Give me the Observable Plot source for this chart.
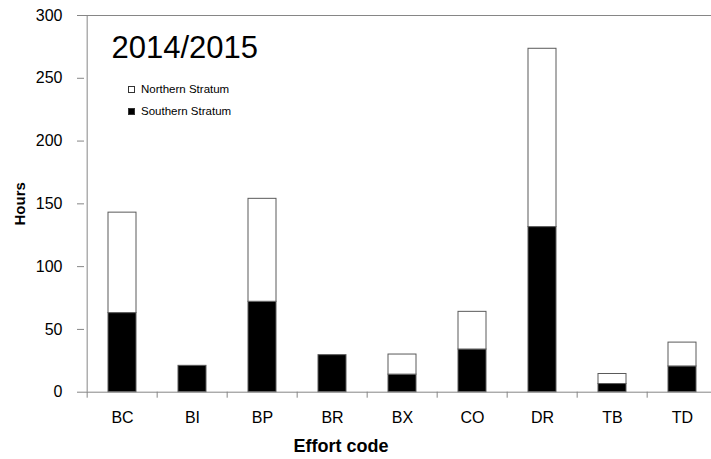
<!DOCTYPE html>
<html>
<head>
<meta charset="utf-8">
<script src="https://cdn.jsdelivr.net/npm/d3@7"></script>
<script src="https://cdn.jsdelivr.net/npm/@observablehq/plot@0.6"></script>
<style>
  html, body { margin: 0; padding: 0; background: #fff; overflow: hidden; }
  #wrap { position: relative; width: 711px; height: 459px; overflow: hidden; font-family: "Liberation Sans", Arial, sans-serif; }
  #legend { position: absolute; left: 0; top: 0; width: 711px; height: 459px; pointer-events: none; }
  .key { position: absolute; width: 5px; height: 5px; border: 1px solid #333; }
  .lab { position: absolute; font-size: 11.5px; line-height: 14px; color: #000; white-space: nowrap; }
</style>
</head>
<body>
<div id="wrap"></div>
<script>
const codes = ["BC", "BI", "BP", "BR", "BX", "CO", "DR", "TB", "TD"];
const southern = [63, 21, 72, 29.5, 14, 34, 131.5, 6.5, 20.5];
const northern = [80, 0, 82, 0, 16, 30, 142, 8, 19];
const strata = ["Southern Stratum", "Northern Stratum"];
const yTicks = [0, 50, 100, 150, 200, 250, 300];
const chartTitle = "2014/2015";
const xTitle = "Effort code";
const yTitle = "Hours";

const rows = [];
codes.forEach((c, i) => rows.push({code: c, stratum: strata[0], hours: southern[i]}));
codes.forEach((c, i) => { if (northern[i] > 0) rows.push({code: c, stratum: strata[1], hours: northern[i]}); });

const W = 711, H = 459;
const mL = 84, mT = 15, mB = 67.3;
const xRange = [84, 720];
const step = (xRange[1] - xRange[0]) / codes.length;
const axisGray = "#868686";

const chart = Plot.plot({
  width: W, height: H,
  marginTop: mT, marginBottom: mB, marginLeft: mL, marginRight: 0,
  x: {domain: codes, range: xRange, paddingInner: 0.6, paddingOuter: 0.3, label: null},
  y: {domain: [0, 300], label: null},
  color: {domain: strata, range: ["#000000", "#ffffff"]},
  style: {fontFamily: "'Liberation Sans', Arial, sans-serif", background: "white", color: "black", overflow: "hidden"},
  marks: [
    Plot.ruleY([300], {stroke: axisGray, strokeWidth: 1}),
    Plot.barY(rows, {x: "code", y: "hours", fill: "stratum", stroke: "#5a5a5a", strokeWidth: 1}),
    Plot.ruleY([0], {stroke: axisGray, strokeWidth: 1}),
    Plot.ruleX([codes[0]], {x: d => d, dx: -step / 2, stroke: axisGray, strokeWidth: 1}),
    Plot.ruleX(codes, {x: d => d, dx: -step / 2, y1: 0, y2: 0, insetBottom: -6, stroke: axisGray, strokeWidth: 1}),
    Plot.axisY({ticks: yTicks, tickSize: 7, tickPadding: 15, fontSize: 16, stroke: axisGray, fill: "black", label: null}),
    Plot.axisX({tickSize: 0, tickPadding: 19, fontSize: 16, fill: "black", label: null}),
    Plot.text([yTitle], {text: d => d, frameAnchor: "left", dx: -64.5, rotate: -90, textAnchor: "middle", lineAnchor: "middle", fontWeight: "bold", fontSize: 15, fill: "black"}),
    Plot.text([xTitle], {text: d => d, frameAnchor: "bottom", dx: -57, dy: 54.3, textAnchor: "middle", lineAnchor: "middle", fontWeight: "bold", fontSize: 18, fill: "black"}),
    Plot.text([chartTitle], {text: d => d, frameAnchor: "top-left", dx: 27, dy: 20, textAnchor: "start", lineAnchor: "top", fontSize: 31, fill: "black"})
  ]
});

const wrap = document.getElementById("wrap");
wrap.appendChild(chart);

// legend (Northern first, as in the reference)
const legend = document.createElement("div");
legend.id = "legend";
const entries = [
  {name: strata[1], fill: "#ffffff", cy: 89},
  {name: strata[0], fill: "#000000", cy: 111.7}
];
entries.forEach(e => {
  const k = document.createElement("div");
  k.className = "key";
  k.style.left = "128px";
  k.style.top = (e.cy - 3.5) + "px";
  k.style.background = e.fill;
  legend.appendChild(k);
  const t = document.createElement("div");
  t.className = "lab";
  t.style.left = "141px";
  t.style.top = (e.cy - 7.5) + "px";
  t.textContent = e.name;
  legend.appendChild(t);
});
wrap.appendChild(legend);
</script>
</body>
</html>
